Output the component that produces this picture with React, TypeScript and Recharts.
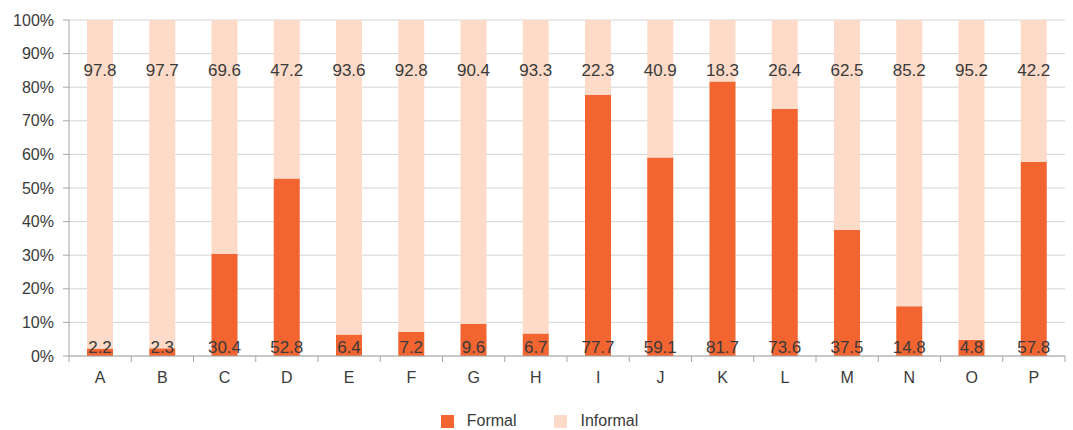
import { Bar, BarChart, CartesianGrid, LabelList, Legend, XAxis, YAxis } from 'recharts';

const categories = ['A', 'B', 'C', 'D', 'E', 'F', 'G', 'H', 'I', 'J', 'K', 'L', 'M', 'N', 'O', 'P'];
const formal = [2.2, 2.3, 30.4, 52.8, 6.4, 7.2, 9.6, 6.7, 77.7, 59.1, 81.7, 73.6, 37.5, 14.8, 4.8, 57.8];
const informal = [97.8, 97.7, 69.6, 47.2, 93.6, 92.8, 90.4, 93.3, 22.3, 40.9, 18.3, 26.4, 62.5, 85.2, 95.2, 42.2];
const yTicks = [0, 10, 20, 30, 40, 50, 60, 70, 80, 90, 100];

const data = categories.map((name, i) => ({ name, formal: formal[i], informal: informal[i] }));

const W = 1073;
const H = 430;
const M = { top: 20, right: 8, left: 0, bottom: 0 };
const Y_W = 69;
const BAND = (W - M.right - Y_W) / categories.length;

const FONT = '"Liberation Sans", Arial, sans-serif';
const TEXT = '#3a3a3a';
const AXIS = '#a6a6a6';
const GRID = '#d4d4d4';
const FORMAL = '#F26531';
const INFORMAL = '#FDDBC8';

const XTick = (props: any) => {
  const { x, y, payload, index } = props;
  const left = x - BAND / 2;
  return (
    <g>
      <line x1={left} x2={left} y1={y - 8} y2={y - 2} stroke={AXIS} />
      {index === categories.length - 1 && (
        <line x1={left + BAND} x2={left + BAND} y1={y - 8} y2={y - 2} stroke={AXIS} />
      )}
      <text x={x} y={y + 19} textAnchor="middle" fill={TEXT} fontSize={16} fontFamily={FONT}>
        {payload.value}
      </text>
    </g>
  );
};

const formalLabel = (props: any) => {
  const { x, y, width, height, value } = props;
  return (
    <text x={x + width / 2} y={y + height - 3} textAnchor="middle" fill={TEXT} fontSize={17} fontFamily={FONT}>
      {value}
    </text>
  );
};

const informalLabel = (props: any) => {
  const { x, width, value } = props;
  return (
    <text x={x + width / 2} y={M.top + 56} textAnchor="middle" fill={TEXT} fontSize={17} fontFamily={FONT}>
      {value}
    </text>
  );
};

const LegendBox = () => (
  <div style={{ display: 'flex', justifyContent: 'center', fontFamily: FONT, fontSize: 16, color: TEXT, paddingLeft: 14 }}>
    {[
      { name: 'Formal', color: FORMAL },
      { name: 'Informal', color: INFORMAL },
    ].map((s) => (
      <div key={s.name} style={{ display: 'flex', alignItems: 'center', margin: '0 19px' }}>
        <span style={{ width: 13, height: 13, background: s.color, display: 'inline-block', marginRight: 13 }} />
        <span>{s.name}</span>
      </div>
    ))}
  </div>
);

export default function App() {
  return (
    <div style={{ position: 'absolute', left: 0, top: 0, background: '#fff' }}>
      <BarChart width={W} height={H} data={data} margin={M} barSize={26}>
        <CartesianGrid vertical={false} stroke={GRID} />
        <XAxis
          dataKey="name"
          height={56}
          axisLine={{ stroke: AXIS }}
          tickLine={false}
          tick={<XTick />}
          interval={0}
        />
        <YAxis
          width={Y_W}
          domain={[0, 100]}
          ticks={yTicks}
          tickFormatter={(v) => `${v}%`}
          axisLine={{ stroke: AXIS }}
          tickLine={{ stroke: AXIS }}
          tickSize={6}
          tickMargin={9}
          tick={{ fill: TEXT, fontSize: 16, fontFamily: FONT }}
          interval={0}
        />
        <Legend verticalAlign="bottom" content={<LegendBox />} wrapperStyle={{ bottom: 0 }} />
        <Bar dataKey="formal" name="Formal" stackId="a" fill={FORMAL} isAnimationActive={false}>
          <LabelList dataKey="formal" content={formalLabel} />
        </Bar>
        <Bar dataKey="informal" name="Informal" stackId="a" fill={INFORMAL} isAnimationActive={false}>
          <LabelList dataKey="informal" content={informalLabel} />
        </Bar>
      </BarChart>
    </div>
  );
}
